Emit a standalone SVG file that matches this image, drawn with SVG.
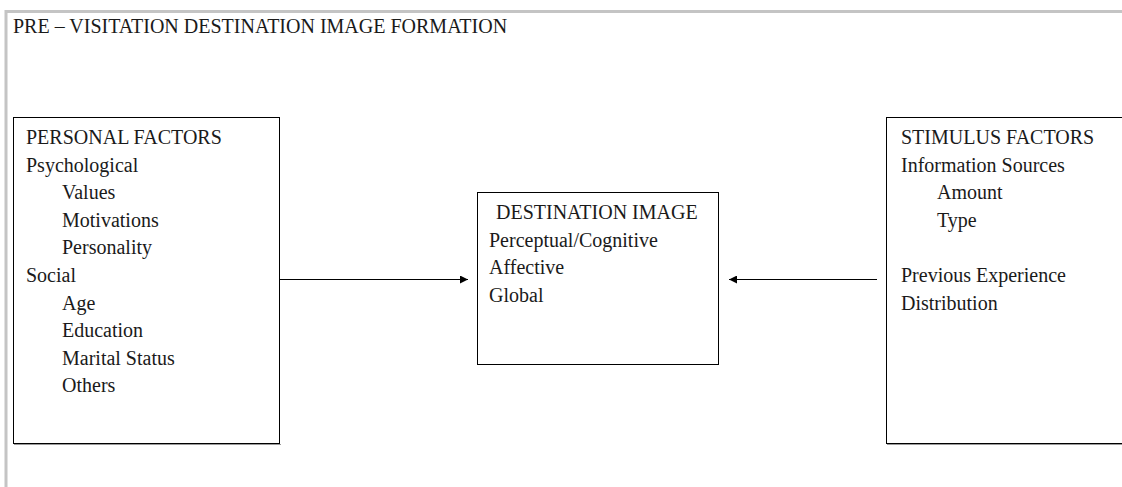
<svg xmlns="http://www.w3.org/2000/svg" width="1122" height="487" viewBox="0 0 1122 487">
  <style>
    .frame { fill: none; stroke: #c4c4c4; stroke-width: 3; }
    .box { fill: #ffffff; stroke: #000000; stroke-width: 1; }
    .shadow { fill: none; stroke: #9a9a9a; stroke-width: 1; }
    .t { font-family: "Liberation Serif", "Times New Roman", serif; font-size: 20px; fill: #1a1a1a; }
    .conn { stroke: #000000; stroke-width: 1; fill: none; }
  </style>
  <defs>
    <marker id="arrow" viewBox="0 0 10 10" refX="10" refY="5" markerWidth="8" markerHeight="8" markerUnits="userSpaceOnUse" orient="auto">
      <path d="M0,0 L10,5 L0,10 Z" fill="#000000"/>
    </marker>
  </defs>
  <rect width="1122" height="487" fill="#ffffff"/>

  <!-- outer frame -->
  <path class="frame" d="M6,487 V11.5 H1122"/>
  <text class="t" x="13" y="33">PRE – VISITATION DESTINATION IMAGE FORMATION</text>

  <!-- personal factors -->
  <g id="personal-factors">
    <path class="shadow" d="M14,444.5 H281"/>
    <rect class="box" x="13.5" y="117.5" width="266" height="326"/>
    <text class="t" x="26" y="144">PERSONAL FACTORS</text>
    <text class="t" x="26" y="172">Psychological</text>
    <text class="t" x="62" y="199">Values</text>
    <text class="t" x="62" y="227">Motivations</text>
    <text class="t" x="62" y="254">Personality</text>
    <text class="t" x="26" y="282">Social</text>
    <text class="t" x="62" y="310">Age</text>
    <text class="t" x="62" y="337">Education</text>
    <text class="t" x="62" y="365">Marital Status</text>
    <text class="t" x="62" y="392">Others</text>
  </g>

  <!-- destination image -->
  <g id="destination-image">
    <rect class="box" x="477.5" y="192.5" width="241" height="172"/>
    <text class="t" x="496" y="219">DESTINATION IMAGE</text>
    <text class="t" x="489" y="247">Perceptual/Cognitive</text>
    <text class="t" x="489" y="274">Affective</text>
    <text class="t" x="489" y="302">Global</text>
  </g>

  <!-- stimulus factors -->
  <g id="stimulus-factors">
    <path class="shadow" d="M887,444.5 H1122"/>
    <rect class="box" x="886.5" y="117.5" width="260" height="326"/>
    <text class="t" x="901" y="144">STIMULUS FACTORS</text>
    <text class="t" x="901" y="172">Information Sources</text>
    <text class="t" x="937" y="199">Amount</text>
    <text class="t" x="937" y="227">Type</text>
    <text class="t" x="901" y="282">Previous Experience</text>
    <text class="t" x="901" y="310">Distribution</text>
  </g>

  <!-- connectors -->
  <g id="connectors">
    <line class="conn" x1="280" y1="279.5" x2="468" y2="279.5" marker-end="url(#arrow)"/>
    <line class="conn" x1="877" y1="279.5" x2="729" y2="279.5" marker-end="url(#arrow)"/>
  </g>
</svg>
